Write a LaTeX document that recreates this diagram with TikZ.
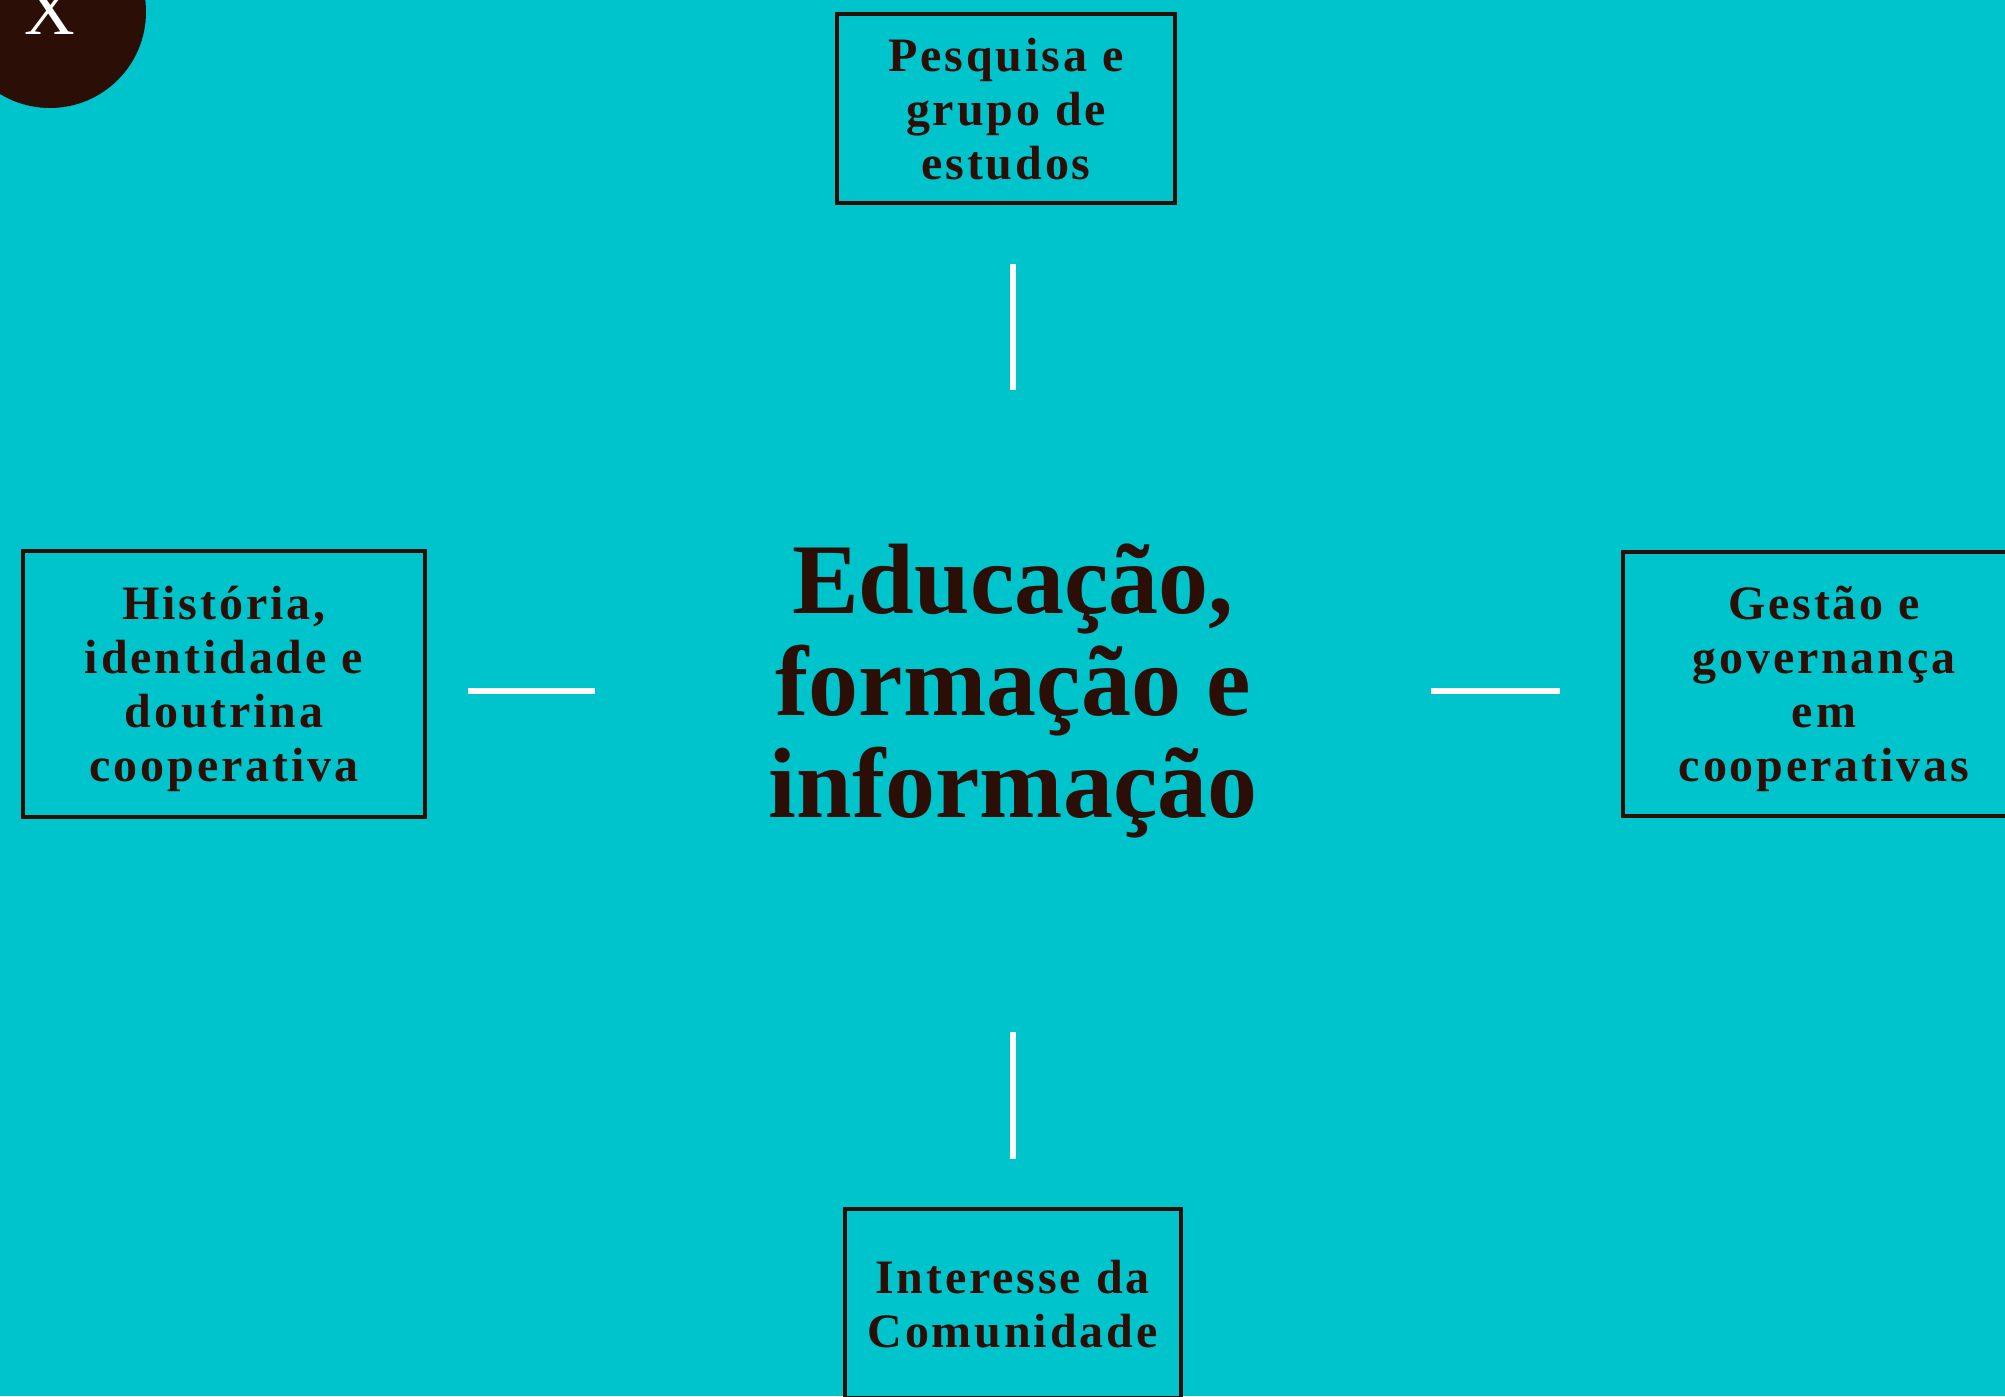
\documentclass[tikz,border=0pt]{standalone}
\usepackage{fontspec}
\setmainfont{Liberation Serif}
\newfontfamily\temafont[LetterSpace=6]{Liberation Serif}
\usepackage{tikz}
\usetikzlibrary{positioning, calc}
\definecolor{myCyan}{HTML}{00C4CC}
\definecolor{myBrown}{HTML}{2B0E06}
\tikzset{
  tema/.style={draw=myBrown, line width=2pt, text=myBrown, align=center,
    inner sep=0pt, text depth=0pt, font=\temafont\bfseries\fontsize{24}{27}\selectfont},
  ligacao/.style={draw=white, line width=3pt},
}

\begin{document}
\begin{tikzpicture}[x=0.5pt, y=-0.5pt]
  % fundo
  \fill[myCyan] (0,0) rectangle (2005,1396);
  \clip (0,0) rectangle (2005,1396);

  % botao de fechar no canto
  \node[circle, fill=myBrown, minimum size=96pt, inner sep=0pt, text=white,
    font=\fontsize{35}{35}\selectfont] (fechar) at (50,12) {X};

  % titulo central
  \node[text=myBrown, align=center, inner sep=0pt, minimum width=418pt, minimum height=301pt,
    font=\bfseries\fontsize{50}{51}\selectfont] (titulo) at (1013,691)
    {Educação,\\formação e\\informação};

  % os quatro temas
  \node[tema, minimum width=169pt, minimum height=94.5pt] (pesquisa) at (1006,108.5)
    {Pesquisa e\\grupo de\\estudos};
  \node[tema, minimum width=201pt, minimum height=133pt] (historia) at (224,684)
    {História,\\identidade e\\doutrina\\cooperativa};
  \node[tema, minimum width=201pt, minimum height=132pt, text height=97pt] (gestao) at (1824,684)
    {Gestão e\\governança\\em\\cooperativas};
  \node[tema, minimum width=168pt, minimum height=94.5pt] (comunidade) at (1012.5,1303.5)
    {Interesse da\\Comunidade};

  % ligacoes ate o titulo
  \draw[ligacao, shorten <=29.5pt] (pesquisa.south -| titulo.north) -- (titulo.north);
  \draw[ligacao, shorten <=20.5pt] (historia.east |- titulo.west) -- (titulo.west);
  \draw[ligacao, shorten <=30.5pt] (gestao.west |- titulo.east) -- (titulo.east);
  \draw[ligacao, shorten <=20pt, shorten >=24pt] (titulo.south) -- (comunidade.north -| titulo.south);
\end{tikzpicture}
\end{document}
